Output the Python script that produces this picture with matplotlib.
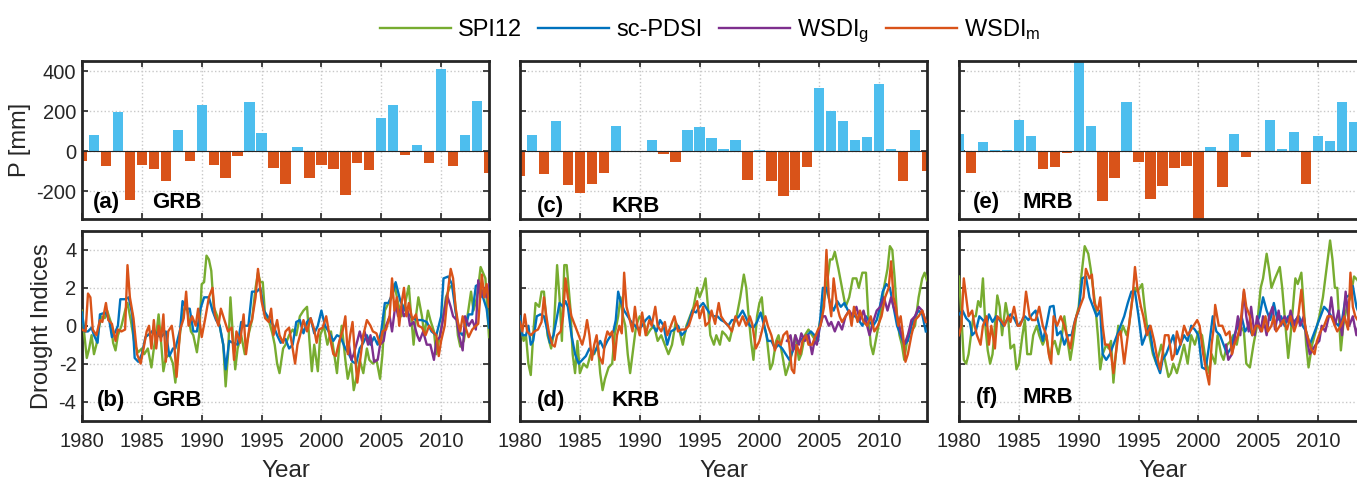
import numpy as np
import matplotlib
matplotlib.use('Agg')
import matplotlib.pyplot as plt

plt.rcParams['font.family'] = ['Liberation Sans', 'DejaVu Sans']
plt.rcParams['mathtext.fontset'] = 'custom'
plt.rcParams['mathtext.rm'] = 'Liberation Sans'
plt.rcParams['mathtext.it'] = 'Liberation Sans'
plt.rcParams['axes.unicode_minus'] = False

# annual precipitation anomalies [mm], 1980-2014
years = list(range(1980, 2015))
grb_p = [-50, 82, -75, 198, -243, -70, -88, -148, 105, -50, 232, -67, -135, -22, 245, 92, -85,
         -165, 20, -135, -70, -88, -222, -60, -93, 165, 233, -18, 32, -60, 413, -72, 83, 253, -110]
krb_p = [-125, 83, -112, 152, -172, -212, -165, -108, 127, -5, -5, 58, -12, -55, 107, 123, 68,
         10, 57, -142, 8, -148, -225, -195, -77, 317, 203, 153, 57, 73, 337, 12, -148, 107, -98]
mrb_p = [88, -108, 47, 5, 7, 158, 77, -90, -80, -7, 470, 128, -250, -135, 248, -52, -242,
         -173, -82, -72, -360, 22, -178, 88, -28, -5, 155, 13, 98, -167, 77, 53, 245, 148]

# drought indices, (year, value)
grb_spi = [(1980.0, 0.8), (1980.2, -0.5), (1980.4, -1.7), (1980.6, -1.2), (1980.8, -0.5), (1981.0, -1.5),
           (1981.2, -1.0), (1981.4, -0.2), (1981.6, 0.5), (1981.9, 0.4), (1982.1, 0.8), (1982.4, 0.2),
           (1982.6, -0.9), (1982.8, -1.3), (1983.0, -0.5), (1983.3, 0.0), (1983.6, 0.8), (1983.8, 1.2),
           (1984.1, 0.2), (1984.4, -1.0), (1984.7, -1.4), (1985.0, -1.2), (1985.2, -1.5), (1985.5, -1.2),
           (1985.8, -2.2), (1986.0, -1.2), (1986.2, -0.5), (1986.4, 0.6), (1986.6, -0.8), (1986.8, -2.4),
           (1987.0, -1.7), (1987.3, -1.5), (1987.6, -2.0), (1987.8, -3.0), (1988.0, -1.5), (1988.3, 0.2),
           (1988.6, 1.0), (1988.8, 0.8), (1989.1, -0.3), (1989.3, -0.5), (1989.6, -1.4), (1989.8, -0.4),
           (1990.0, 2.2), (1990.2, 2.3), (1990.4, 3.7), (1990.6, 3.5), (1990.8, 2.9), (1991.0, 1.0),
           (1991.3, 0.5), (1991.5, 0.0), (1991.8, -1.0), (1992.0, -3.2), (1992.2, -1.5), (1992.4, 1.5),
           (1992.6, -0.5), (1992.8, -2.3), (1993.0, -1.2), (1993.3, -0.5), (1993.6, -1.5), (1993.9, -0.5),
           (1994.2, 0.3), (1994.5, 2.0), (1994.7, 2.8), (1994.9, 2.3), (1995.1, 2.3), (1995.3, 0.5),
           (1995.6, 0.3), (1995.9, -0.4), (1996.1, -1.0), (1996.3, -2.0), (1996.5, -2.5), (1996.8, -1.2),
           (1997.0, -1.0), (1997.3, -0.5), (1997.6, -0.2), (1997.9, -0.5), (1998.2, 0.5), (1998.5, 0.8),
           (1998.8, 1.0), (1999.0, -0.8), (1999.2, -2.4), (1999.4, -1.0), (1999.7, -2.4), (1999.9, -0.5),
           (2000.2, 0.0), (2000.5, -1.0), (2000.8, -0.3), (2001.0, -1.2), (2001.3, -2.5), (2001.5, -1.0),
           (2001.7, 0.0), (2002.0, -1.8), (2002.2, -2.8), (2002.5, -2.0), (2002.7, -3.4), (2003.0, -2.5),
           (2003.2, -1.8), (2003.5, -2.5), (2003.8, -1.2), (2004.0, -1.8), (2004.3, -2.0), (2004.6, -1.8),
           (2004.9, -2.8), (2005.1, -1.5), (2005.3, 0.8), (2005.6, 1.2), (2005.9, 1.5), (2006.1, 2.2),
           (2006.4, 1.2), (2006.7, 0.5), (2007.0, 1.2), (2007.3, 2.1), (2007.5, 0.5), (2007.7, -1.0),
           (2007.9, 0.5), (2008.1, 1.5), (2008.4, 0.5), (2008.6, -0.5), (2008.9, 0.8), (2009.1, 0.3),
           (2009.4, -0.3), (2009.6, -1.5), (2009.9, -0.5), (2010.1, 0.2), (2010.4, 1.5), (2010.7, 2.0),
           (2011.0, 2.2), (2011.2, 1.0), (2011.4, -0.5), (2011.6, -1.1), (2011.9, -0.8), (2012.2, 0.5),
           (2012.5, 1.8), (2012.7, 0.8), (2013.0, 1.5), (2013.3, 3.1), (2013.5, 2.8), (2013.7, 2.5),
           (2014.0, -0.6)]
grb_pdsi = [(1980.0, 0.7), (1980.2, -0.3), (1980.5, -0.3), (1980.8, -0.1), (1981.0, -0.5), (1981.3, -0.9),
            (1981.5, 0.6), (1982.0, 0.7), (1982.3, 0.2), (1982.5, -0.6), (1982.8, -0.3), (1983.0, 0.0),
            (1983.2, 1.4), (1983.6, 1.4), (1983.9, 1.5), (1984.2, 0.6), (1984.4, -1.7), (1984.7, -1.9),
            (1985.0, -1.5), (1985.3, -0.6), (1985.7, -0.4), (1986.0, -0.2), (1986.3, -0.5), (1986.6, -0.6),
            (1987.0, -0.3), (1987.3, -1.6), (1987.6, -1.2), (1987.8, -1.2), (1988.2, -0.2), (1988.4, 1.3),
            (1988.7, 0.9), (1989.0, 0.9), (1989.3, -0.3), (1989.6, -0.3), (1989.9, 0.9), (1990.2, 1.5),
            (1990.6, 1.5), (1990.9, 0.8), (1991.2, 0.3), (1991.5, 0.0), (1991.8, -1.0), (1992.0, -2.3),
            (1992.3, -0.8), (1992.6, -0.9), (1993.0, -1.0), (1993.3, 0.2), (1993.6, 0.0), (1993.9, 0.0),
            (1994.2, 1.8), (1994.6, 1.8), (1994.9, 2.0), (1995.2, 0.8), (1995.6, 0.4), (1996.0, 0.0),
            (1996.3, -0.5), (1996.6, -0.9), (1997.0, -0.7), (1997.3, -1.2), (1997.6, -1.0), (1997.9, 0.2),
            (1998.2, 0.3), (1998.5, -0.4), (1998.8, 0.2), (1999.1, 0.4), (1999.4, -0.4), (1999.7, 0.0),
            (2000.0, 0.8), (2000.3, 0.0), (2000.6, -0.3), (2001.0, -0.8), (2001.3, -0.5), (2001.6, -0.6),
            (2002.0, -1.2), (2002.3, -1.5), (2002.6, -1.9), (2002.9, -2.0), (2003.2, -1.2), (2003.5, -0.9),
            (2003.8, -0.5), (2004.1, -1.0), (2004.4, -0.6), (2004.7, -1.0), (2005.0, -0.3), (2005.3, 1.2),
            (2005.6, 1.2), (2006.0, 1.8), (2006.2, 2.3), (2006.6, 1.3), (2007.0, 0.8), (2007.3, 0.6),
            (2007.6, 0.4), (2008.0, 0.3), (2008.4, 0.3), (2008.8, 0.2), (2009.2, -0.3), (2009.6, -0.5),
            (2010.0, 0.5), (2010.2, 2.5), (2010.6, 2.6), (2010.9, 2.2), (2011.2, 0.8), (2011.5, -0.3),
            (2011.8, -0.5), (2012.0, -0.2), (2012.3, 0.6), (2012.6, 0.6), (2012.9, 2.1), (2013.2, 2.2),
            (2013.5, 1.5), (2013.8, 0.9), (2014.0, -0.1)]
grb_wsdig = [(2002.3, -1.0), (2002.5, -1.8), (2002.7, -1.5), (2003.0, -0.8), (2003.2, -0.3), (2003.4, -0.8),
             (2003.6, -0.3), (2003.9, -1.0), (2004.1, -0.5), (2004.4, -1.9), (2004.7, -1.8), (2004.9, -1.0),
             (2005.2, -0.8), (2005.4, 0.0), (2005.7, 0.5), (2005.9, -0.3), (2006.2, 1.2), (2006.4, 0.5),
             (2006.7, 1.0), (2006.9, 0.5), (2007.2, 0.8), (2007.4, 0.0), (2007.7, 0.2), (2008.0, -0.5),
             (2008.2, -0.8), (2008.5, -0.3), (2008.8, -1.0), (2009.1, -1.0), (2009.4, -1.8), (2009.6, -0.8),
             (2009.9, -0.6), (2010.2, 0.5), (2010.5, 1.6), (2010.8, 1.0), (2011.0, 0.5), (2011.3, 0.3),
             (2011.5, -0.5), (2011.8, -1.3), (2012.0, 0.5), (2012.3, 0.0), (2012.6, 0.3), (2012.9, -0.2),
             (2013.1, 2.4), (2013.3, 1.5), (2013.6, 2.0), (2013.8, 1.5), (2014.0, 2.2)]
grb_wsdim = [(1980.0, -0.2), (1980.3, -0.3), (1980.5, 1.7), (1980.7, 1.5), (1980.9, -0.2), (1981.2, -0.5),
             (1981.5, 0.3), (1981.7, 0.2), (1982.0, 1.2), (1982.2, 0.3), (1982.5, 0.1), (1982.8, -0.8),
             (1983.0, -0.2), (1983.3, -0.3), (1983.6, -0.2), (1983.8, 3.2), (1984.0, 1.5), (1984.3, 0.4),
             (1984.6, -1.5), (1984.9, -2.0), (1985.2, -1.0), (1985.4, -0.3), (1985.6, 0.0), (1985.8, -1.2),
             (1986.0, 0.3), (1986.2, -1.2), (1986.4, 0.0), (1986.6, -0.8), (1986.8, 0.6), (1987.0, -1.9),
             (1987.2, -0.3), (1987.5, 0.0), (1987.7, -0.9), (1987.9, -2.7), (1988.2, -0.2), (1988.5, 0.4),
             (1988.7, 1.8), (1988.9, 0.0), (1989.2, 0.5), (1989.5, 0.0), (1989.7, 0.9), (1990.0, -0.6),
             (1990.3, 0.4), (1990.6, 1.5), (1990.9, 2.0), (1991.1, 0.6), (1991.4, 0.0), (1991.6, 0.9),
             (1991.9, 0.3), (1992.2, -0.3), (1992.5, -0.1), (1992.7, -1.8), (1992.9, -0.3), (1993.2, -0.9),
             (1993.5, 0.6), (1993.7, -1.5), (1994.0, 0.0), (1994.2, 0.3), (1994.5, 1.5), (1994.7, 3.0),
             (1995.0, 1.3), (1995.3, 0.4), (1995.6, 0.2), (1995.8, 0.9), (1996.0, -0.5), (1996.3, 0.3),
             (1996.5, -0.5), (1996.8, -0.9), (1997.0, -0.3), (1997.3, -0.1), (1997.6, -1.2), (1997.8, -2.0),
             (1998.0, -1.0), (1998.3, -0.3), (1998.5, 0.3), (1998.8, -0.3), (1999.1, 0.4), (1999.4, -0.2),
             (1999.6, -0.9), (1999.8, -0.2), (2000.1, -0.1), (2000.4, 0.5), (2000.7, -0.6), (2001.0, -1.5),
             (2001.2, -1.6), (2001.5, -0.8), (2001.8, -0.2), (2002.0, 0.5), (2002.2, -1.5), (2002.4, -0.5),
             (2002.6, 0.2), (2002.8, -1.5), (2003.0, -3.0), (2003.3, -1.5), (2003.5, -0.5), (2003.8, 0.3),
             (2004.1, 0.0), (2004.3, -0.3), (2004.6, -0.4), (2004.9, -1.0), (2005.1, -0.3), (2005.4, -0.2),
             (2005.7, 0.5), (2005.9, 2.5), (2006.1, 0.8), (2006.3, 1.5), (2006.5, 0.0), (2006.7, 1.2),
             (2006.9, 2.0), (2007.1, 0.5), (2007.3, 1.2), (2007.6, 0.3), (2007.9, 0.6), (2008.1, 0.0),
             (2008.4, -0.1), (2008.7, -0.5), (2009.0, 0.0), (2009.3, -0.3), (2009.6, -0.5), (2009.8, -1.6),
             (2010.0, -0.8), (2010.3, 0.0), (2010.6, 2.0), (2010.8, 3.0), (2011.0, 2.5), (2011.2, 1.0),
             (2011.4, 0.2), (2011.6, -0.3), (2011.8, 0.5), (2012.0, 0.0), (2012.3, -0.6), (2012.6, -0.2),
             (2012.9, 0.0), (2013.1, 0.1), (2013.4, 2.7), (2013.6, 1.5), (2013.8, 2.2), (2014.0, 1.0)]

krb_spi = [(1980.0, 0.2), (1980.3, -0.8), (1980.5, -0.5), (1980.7, -2.0), (1980.9, -2.6), (1981.1, -0.5),
           (1981.3, 1.2), (1981.6, 1.0), (1981.8, 1.8), (1982.0, 1.8), (1982.3, -0.5), (1982.6, -1.2),
           (1982.8, -0.5), (1983.1, 3.2), (1983.3, 1.5), (1983.5, -0.8), (1983.7, 3.2), (1983.9, 3.2),
           (1984.2, 1.0), (1984.4, -1.5), (1984.6, -2.5), (1984.8, -0.8), (1985.0, -2.5), (1985.3, -2.0),
           (1985.6, -2.2), (1985.9, -1.5), (1986.2, -1.5), (1986.5, -1.0), (1986.7, -2.5), (1986.9, -3.4),
           (1987.1, -2.8), (1987.4, -2.2), (1987.7, -2.0), (1987.9, -0.5), (1988.2, 0.5), (1988.4, 1.5),
           (1988.6, 0.5), (1988.8, 0.0), (1989.0, -1.5), (1989.2, -2.5), (1989.5, -1.0), (1989.7, 0.0),
           (1990.0, 0.5), (1990.3, 0.3), (1990.6, -0.5), (1990.9, -0.2), (1991.2, 0.0), (1991.5, -0.8),
           (1991.8, -0.5), (1992.1, -1.0), (1992.4, -1.5), (1992.7, -1.0), (1993.0, 0.2), (1993.3, -0.2),
           (1993.6, -1.0), (1993.9, 0.0), (1994.2, 0.5), (1994.5, 1.0), (1994.8, 2.0), (1995.0, 1.5),
           (1995.3, 2.0), (1995.5, 2.5), (1995.7, 1.0), (1995.9, -0.5), (1996.2, -1.0), (1996.4, -0.5),
           (1996.7, -1.0), (1996.9, -0.3), (1997.2, -0.5), (1997.5, -0.8), (1997.8, 0.0), (1998.1, 0.5),
           (1998.4, 1.5), (1998.7, 2.7), (1998.9, 2.0), (1999.1, 0.5), (1999.3, -0.8), (1999.5, -1.8),
           (1999.8, 0.5), (2000.0, 1.2), (2000.2, 1.5), (2000.4, 0.0), (2000.6, -0.5), (2000.9, -2.3),
           (2001.1, -2.0), (2001.4, -0.8), (2001.6, -0.5), (2001.9, -1.5), (2002.2, -2.6), (2002.5, -2.0),
           (2002.7, -1.5), (2003.0, -0.5), (2003.3, -1.8), (2003.5, -1.5), (2003.8, -0.5), (2004.1, -0.2),
           (2004.4, -0.5), (2004.7, -0.8), (2005.0, 0.0), (2005.3, 1.0), (2005.6, 2.0), (2005.9, 3.5),
           (2006.1, 3.5), (2006.3, 3.9), (2006.6, 3.0), (2006.9, 2.0), (2007.2, 1.0), (2007.5, 1.5),
           (2007.8, 2.5), (2008.1, 2.5), (2008.3, 2.0), (2008.6, 2.8), (2008.9, 2.8), (2009.1, 0.5),
           (2009.3, -1.0), (2009.5, -1.5), (2009.8, -0.5), (2010.1, 0.5), (2010.4, 2.0), (2010.7, 3.0),
           (2010.9, 4.2), (2011.1, 4.0), (2011.3, 2.5), (2011.5, 0.5), (2011.7, -0.5), (2011.9, -1.0),
           (2012.1, -1.8), (2012.4, -0.5), (2012.7, -0.3), (2013.0, 0.0), (2013.3, 1.5), (2013.6, 2.5),
           (2013.8, 2.8), (2014.0, 2.4)]
krb_pdsi = [(1980.0, 0.5), (1980.2, -0.5), (1980.5, -0.5), (1980.7, 0.0), (1980.9, -1.0), (1981.1, -0.8),
            (1981.4, 0.5), (1981.7, 0.6), (1982.0, 0.5), (1982.2, 0.0), (1982.5, -0.9), (1982.8, -0.5),
            (1983.1, 0.5), (1983.3, 1.2), (1983.6, 1.0), (1983.8, 1.3), (1984.0, 1.0), (1984.3, -0.5),
            (1984.6, -1.5), (1984.9, -2.0), (1985.2, -1.8), (1985.5, -1.6), (1985.8, -1.2), (1986.1, -1.5),
            (1986.4, -1.2), (1986.7, -0.8), (1987.0, -1.2), (1987.3, -0.8), (1987.6, -0.5), (1987.8, -0.3),
            (1988.0, 0.3), (1988.2, 1.8), (1988.4, 1.3), (1988.7, 0.8), (1989.0, 0.5), (1989.3, 0.2),
            (1989.6, 0.0), (1989.9, -0.2), (1990.2, 0.0), (1990.5, 0.3), (1990.8, 0.5), (1991.1, 0.0),
            (1991.4, -0.3), (1991.7, 0.3), (1992.0, 0.0), (1992.3, -1.0), (1992.6, -0.3), (1992.9, -0.2),
            (1993.2, 0.0), (1993.5, -0.5), (1993.8, -0.3), (1994.1, 0.2), (1994.4, 0.8), (1994.7, 0.7),
            (1995.0, 1.0), (1995.3, 1.2), (1995.6, 0.9), (1995.9, 0.6), (1996.2, 0.5), (1996.5, 0.5),
            (1996.8, 0.3), (1997.1, 0.2), (1997.4, 0.0), (1997.7, 0.3), (1998.0, 0.3), (1998.3, 0.5),
            (1998.6, 0.8), (1998.9, 0.4), (1999.2, 0.0), (1999.5, -0.1), (1999.8, 0.2), (2000.1, 0.7),
            (2000.4, 0.0), (2000.7, -0.8), (2001.0, -0.8), (2001.3, -1.2), (2001.6, -1.0), (2001.9, -1.2),
            (2002.2, -1.5), (2002.5, -1.8), (2002.8, -1.3), (2003.1, -1.0), (2003.4, -0.8), (2003.7, -0.6),
            (2004.0, -0.5), (2004.3, -0.3), (2004.6, -0.5), (2004.9, -0.8), (2005.1, 0.5), (2005.3, 2.0),
            (2005.6, 2.0), (2005.9, 1.2), (2006.2, 0.8), (2006.5, 1.3), (2006.8, 1.0), (2007.1, 1.2),
            (2007.4, 0.8), (2007.7, 0.5), (2008.0, 0.5), (2008.3, 0.3), (2008.6, 0.0), (2008.9, 0.5),
            (2009.2, 0.2), (2009.5, 0.0), (2009.8, 0.3), (2010.0, 0.8), (2010.3, 1.8), (2010.6, 2.2),
            (2010.9, 2.0), (2011.2, 1.0), (2011.5, 0.0), (2011.8, -0.5), (2012.1, -1.0), (2012.4, -0.8),
            (2012.7, 0.0), (2013.0, 0.5), (2013.3, 0.8), (2013.6, 0.6), (2013.9, -0.3)]
krb_wsdig = [(2002.3, -0.8), (2002.6, -0.5), (2002.8, -1.3), (2003.0, -0.5), (2003.3, -1.0), (2003.5, -0.4),
             (2003.8, -0.8), (2004.1, -0.5), (2004.4, -1.5), (2004.6, -0.8), (2004.8, -1.0), (2005.0, -0.2),
             (2005.3, 0.5), (2005.5, 0.5), (2005.8, 0.0), (2006.0, 0.2), (2006.3, -0.3), (2006.6, 0.2),
             (2006.9, -0.2), (2007.2, 0.5), (2007.5, 0.8), (2007.8, 0.5), (2008.1, 1.0), (2008.4, 0.3),
             (2008.7, 0.8), (2009.0, 0.0), (2009.2, -0.5), (2009.5, 0.2), (2009.8, 0.8), (2010.1, 1.0),
             (2010.4, 1.5), (2010.7, 0.8), (2011.0, 1.5), (2011.2, 1.0), (2011.5, 0.5), (2011.8, -0.3),
             (2012.1, -1.0), (2012.4, -0.5), (2012.7, 0.3), (2013.0, 0.5), (2013.3, 1.0), (2013.6, 0.8),
             (2013.9, 0.2)]
krb_wsdim = [(1980.0, 0.2), (1980.2, -0.3), (1980.4, 0.6), (1980.6, -0.3), (1980.9, -0.5), (1981.2, -0.3),
             (1981.5, -0.2), (1981.8, 0.2), (1982.0, 1.5), (1982.2, 0.5), (1982.4, -0.3), (1982.7, -1.0),
             (1982.9, -1.1), (1983.1, -0.5), (1983.4, -0.3), (1983.6, 0.5), (1983.8, 2.5), (1984.0, 1.5),
             (1984.3, 0.5), (1984.6, 0.0), (1984.9, -0.5), (1985.2, -1.0), (1985.4, -0.5), (1985.6, 0.3),
             (1985.8, -0.5), (1986.0, -1.8), (1986.2, -1.0), (1986.4, -0.5), (1986.6, -1.6), (1986.9, -2.0),
             (1987.1, -0.8), (1987.3, -0.3), (1987.5, -0.5), (1987.7, -0.3), (1987.9, -1.8), (1988.1, -0.5),
             (1988.3, 0.0), (1988.5, -0.4), (1988.7, 2.8), (1988.9, 1.0), (1989.1, 0.5), (1989.4, -0.3),
             (1989.6, 1.0), (1989.8, 0.0), (1990.0, -0.5), (1990.2, 0.7), (1990.5, -0.5), (1990.8, 0.3),
             (1991.0, 0.0), (1991.3, 1.0), (1991.5, 0.0), (1991.8, -0.3), (1992.1, 0.2), (1992.3, -0.5),
             (1992.6, 0.0), (1992.9, 0.5), (1993.2, -0.3), (1993.5, -0.2), (1993.8, -0.2), (1994.1, 0.0),
             (1994.4, 0.6), (1994.6, 1.0), (1994.8, 1.3), (1995.0, 0.4), (1995.3, 1.0), (1995.5, 0.0),
             (1995.8, 0.2), (1996.0, 0.8), (1996.3, 0.1), (1996.6, 1.2), (1996.8, 0.5), (1997.1, 0.2),
             (1997.4, 0.0), (1997.7, -0.3), (1998.0, 0.5), (1998.3, 0.0), (1998.6, 0.5), (1998.9, 0.0),
             (1999.2, 0.5), (1999.4, 0.1), (1999.7, -1.2), (2000.0, -0.8), (2000.2, -0.3), (2000.5, 0.5),
             (2000.7, 0.0), (2001.0, -0.5), (2001.3, -1.3), (2001.5, -0.8), (2001.8, -1.0), (2002.0, -0.5),
             (2002.3, -0.3), (2002.5, -1.0), (2002.7, -2.3), (2002.9, -2.5), (2003.1, -1.0), (2003.4, -1.5),
             (2003.6, -0.8), (2003.9, -0.5), (2004.1, -1.0), (2004.4, -1.0), (2004.7, -0.5), (2004.9, -0.2),
             (2005.1, 0.0), (2005.4, 1.0), (2005.6, 4.0), (2005.8, 1.5), (2006.0, 0.5), (2006.2, 2.5),
             (2006.5, 1.0), (2006.7, 0.5), (2006.9, 0.2), (2007.2, 0.5), (2007.5, 0.8), (2007.7, 0.0),
             (2007.9, 1.0), (2008.2, 0.2), (2008.4, 0.8), (2008.7, 0.2), (2009.0, 0.0), (2009.3, 0.5),
             (2009.6, -0.3), (2009.9, 0.0), (2010.2, 0.5), (2010.5, 1.5), (2010.8, 2.0), (2011.0, 3.4),
             (2011.2, 1.5), (2011.4, 1.0), (2011.6, 0.0), (2011.8, 0.5), (2012.0, -0.5), (2012.2, -1.9),
             (2012.4, -1.5), (2012.7, -0.5), (2013.0, 0.3), (2013.3, 0.5), (2013.6, 0.8), (2013.9, 0.2)]

mrb_spi = [(1980.0, 2.6), (1980.2, 0.5), (1980.4, -1.8), (1980.6, -2.0), (1980.8, -1.5), (1981.0, -0.5),
           (1981.2, 0.5), (1981.4, 0.5), (1981.6, 1.3), (1981.8, 1.0), (1982.0, 2.5), (1982.2, 0.0),
           (1982.4, -1.3), (1982.6, -2.0), (1982.8, -1.5), (1983.0, 0.0), (1983.2, 1.6), (1983.4, 1.0),
           (1983.6, -0.5), (1983.9, 1.2), (1984.1, 0.5), (1984.3, -1.2), (1984.6, -1.0), (1984.8, -2.3),
           (1985.0, -2.0), (1985.3, -0.5), (1985.5, 0.3), (1985.7, -1.5), (1986.0, -1.5), (1986.2, -0.5),
           (1986.5, 0.0), (1986.7, -0.5), (1987.0, -1.0), (1987.3, -0.5), (1987.6, -1.8), (1987.8, -1.0),
           (1988.0, -0.8), (1988.3, -1.5), (1988.6, -0.5), (1988.8, 0.5), (1989.0, -0.5), (1989.3, -1.8),
           (1989.5, -1.0), (1989.8, 0.5), (1990.0, 1.0), (1990.2, 2.5), (1990.5, 4.2), (1990.8, 3.8),
           (1991.0, 3.0), (1991.2, 2.0), (1991.4, 1.0), (1991.6, -0.5), (1991.8, -2.3), (1992.0, -1.5),
           (1992.3, -1.0), (1992.5, -1.2), (1992.7, -0.8), (1992.9, -3.0), (1993.1, -1.5), (1993.3, 0.0),
           (1993.5, -0.5), (1993.7, 0.0), (1994.0, -0.5), (1994.2, 0.0), (1994.5, 1.5), (1994.7, 2.0),
           (1994.9, 1.8), (1995.1, 2.0), (1995.3, 2.2), (1995.5, 1.0), (1995.7, 0.0), (1995.9, -0.5),
           (1996.2, -1.5), (1996.5, -2.0), (1996.7, -1.5), (1996.9, -1.0), (1997.2, -1.8), (1997.5, -2.7),
           (1997.7, -2.5), (1997.9, -2.0), (1998.2, -2.5), (1998.5, -1.8), (1998.8, -1.0), (1999.1, -2.0),
           (1999.4, -0.5), (1999.7, -1.0), (2000.0, -0.3), (2000.3, -0.5), (2000.6, -1.8), (2000.9, -2.5),
           (2001.1, -1.5), (2001.4, -2.0), (2001.6, -0.5), (2001.9, -1.5), (2002.1, -1.8), (2002.4, -1.0),
           (2002.7, -0.8), (2002.9, -0.5), (2003.2, -1.0), (2003.5, 0.0), (2003.8, -0.3), (2004.0, -2.0),
           (2004.3, -2.2), (2004.6, -1.0), (2004.9, 0.0), (2005.2, 2.0), (2005.4, 2.5), (2005.7, 3.8),
           (2005.9, 3.0), (2006.1, 2.0), (2006.4, 2.5), (2006.8, 3.1), (2007.0, 2.0), (2007.2, 0.5),
           (2007.5, -1.7), (2007.7, -0.5), (2007.9, 1.0), (2008.1, 2.5), (2008.3, 2.2), (2008.6, 2.8),
           (2008.8, 1.0), (2009.0, -1.0), (2009.2, -2.2), (2009.5, -1.0), (2009.8, -0.3), (2010.1, 0.5),
           (2010.4, 1.5), (2010.7, 3.0), (2011.0, 4.5), (2011.2, 3.5), (2011.4, 2.0), (2011.6, 2.0),
           (2011.9, -1.3), (2012.1, 0.0), (2012.4, 1.0), (2012.7, 1.5), (2013.0, 2.6), (2013.3, 2.4),
           (2013.6, 1.8), (2014.0, 1.2)]
mrb_pdsi = [(1980.0, 0.6), (1980.3, 0.8), (1980.6, 0.4), (1980.9, 0.2), (1981.1, -0.5), (1981.4, -0.3),
            (1981.7, 0.5), (1982.0, 0.3), (1982.3, 0.0), (1982.5, 0.6), (1982.8, 0.2), (1983.1, 0.5),
            (1983.4, 0.3), (1983.7, 0.0), (1984.0, 0.3), (1984.3, 0.6), (1984.6, 0.4), (1984.9, 0.0),
            (1985.2, 0.2), (1985.5, 0.5), (1985.8, 0.3), (1986.1, 0.6), (1986.4, 0.8), (1986.7, 0.0),
            (1987.0, -0.8), (1987.3, 0.0), (1987.6, 1.0), (1987.9, 1.05), (1988.2, -0.5), (1988.5, -0.3),
            (1988.8, -1.0), (1989.1, -0.5), (1989.4, -0.5), (1989.7, 0.3), (1990.0, 0.8), (1990.3, 2.5),
            (1990.6, 2.6), (1990.9, 1.5), (1991.2, 1.0), (1991.5, 0.5), (1991.8, 0.8), (1992.0, -1.5),
            (1992.3, -1.8), (1992.6, -1.5), (1992.9, -1.0), (1993.2, -0.5), (1993.5, 0.0), (1993.8, 0.5),
            (1994.1, 1.2), (1994.4, 1.8), (1994.7, 1.8), (1995.0, 0.5), (1995.3, -1.0), (1995.6, -0.5),
            (1995.9, 0.0), (1996.2, -1.3), (1996.5, -2.0), (1996.8, -2.5), (1997.0, -1.8), (1997.3, -1.5),
            (1997.6, -1.0), (1997.9, -0.5), (1998.2, -1.5), (1998.5, -1.0), (1998.8, -0.5), (1999.1, -0.8),
            (1999.4, 0.0), (1999.7, -0.2), (2000.0, -0.5), (2000.3, -2.2), (2000.6, -2.3), (2000.9, -1.0),
            (2001.2, 0.5), (2001.5, -0.3), (2001.8, -0.5), (2002.1, -1.0), (2002.4, -1.5), (2002.7, -1.2),
            (2003.0, -0.5), (2003.3, 0.0), (2003.6, 0.5), (2003.9, -0.3), (2004.2, 0.0), (2004.5, -0.5),
            (2004.8, 0.0), (2005.1, 0.5), (2005.4, 1.5), (2005.7, 0.8), (2006.0, 0.3), (2006.3, 1.2),
            (2006.6, 0.3), (2006.9, 0.5), (2007.2, 0.0), (2007.5, 0.5), (2007.8, 0.0), (2008.1, 0.3),
            (2008.4, 0.5), (2008.7, 0.0), (2009.0, -0.3), (2009.3, -1.0), (2009.6, -0.5), (2009.9, 0.0),
            (2010.2, 0.5), (2010.5, 1.0), (2010.8, 0.8), (2011.1, 0.5), (2011.4, 0.2), (2011.7, 0.0),
            (2012.0, 0.3), (2012.3, 1.5), (2012.6, 1.6), (2012.9, 2.1), (2013.2, 1.0), (2013.5, 0.5),
            (2014.0, 0.5)]
mrb_wsdig = [(2002.3, -1.0), (2002.5, -1.8), (2002.8, -1.5), (2003.0, -0.8), (2003.3, 0.5), (2003.5, -0.5),
             (2003.8, 1.8), (2004.0, 0.5), (2004.2, -0.3), (2004.4, 1.0), (2004.7, -0.5), (2004.9, 0.5),
             (2005.2, -0.3), (2005.4, 0.5), (2005.7, -0.5), (2005.9, 0.5), (2006.2, 1.0), (2006.4, -0.2),
             (2006.7, 0.8), (2006.9, 0.0), (2007.2, 0.5), (2007.5, 0.2), (2007.7, 0.8), (2008.0, 0.0),
             (2008.3, 0.5), (2008.5, 0.0), (2008.8, 0.5), (2009.0, -0.5), (2009.3, -1.5), (2009.5, -1.3),
             (2009.8, -1.0), (2010.1, -0.8), (2010.3, 0.0), (2010.6, -0.3), (2010.9, 0.5), (2011.1, 1.5),
             (2011.4, 0.0), (2011.7, 0.8), (2012.0, -0.5), (2012.3, 1.8), (2012.6, 0.0), (2012.9, 0.5),
             (2013.2, -0.5), (2013.5, 0.5)]
mrb_wsdim = [(1980.0, -0.5), (1980.2, 0.0), (1980.4, 2.5), (1980.6, 1.5), (1980.8, 0.5), (1981.1, 0.8),
             (1981.3, 0.0), (1981.5, -0.5), (1981.8, -1.0), (1982.0, 0.0), (1982.3, 0.5), (1982.5, -1.0),
             (1982.7, 0.0), (1983.0, -1.2), (1983.2, 0.5), (1983.5, 0.3), (1983.8, 0.0), (1984.1, 0.5),
             (1984.3, 0.2), (1984.6, 1.0), (1984.9, 0.0), (1985.1, 0.0), (1985.4, 0.5), (1985.6, 1.8),
             (1985.9, 0.5), (1986.1, 0.3), (1986.4, 0.3), (1986.7, 1.0), (1987.0, 0.0), (1987.3, -0.5),
             (1987.5, -1.5), (1987.7, -2.0), (1987.9, 0.5), (1988.2, 0.0), (1988.5, 0.5), (1988.8, 0.0),
             (1989.0, -0.5), (1989.3, -1.2), (1989.6, 0.0), (1989.8, 0.5), (1990.1, 1.0), (1990.4, 1.5),
             (1990.6, 3.0), (1990.9, 2.5), (1991.1, 2.7), (1991.3, 1.2), (1991.6, 0.8), (1991.8, 1.5),
             (1992.0, 0.0), (1992.2, -1.0), (1992.5, -1.0), (1992.7, -1.5), (1992.9, -2.5), (1993.1, -1.5),
             (1993.3, -0.5), (1993.5, -0.3), (1993.8, -2.0), (1994.0, -1.0), (1994.2, 0.0), (1994.5, 1.5),
             (1994.7, 3.1), (1994.9, 2.0), (1995.2, 1.0), (1995.4, 0.5), (1995.7, -0.5), (1996.0, 0.0),
             (1996.3, -0.8), (1996.5, -1.5), (1996.8, -2.3), (1997.0, -1.5), (1997.2, -0.5), (1997.5, -0.5),
             (1997.8, -1.8), (1998.0, -1.5), (1998.2, -0.3), (1998.5, -1.0), (1998.8, 0.0), (1999.1, -0.5),
             (1999.3, -0.3), (1999.6, 0.0), (1999.9, 0.3), (2000.1, 0.0), (2000.4, -1.5), (2000.7, -2.5),
             (2000.9, -3.1), (2001.1, -1.0), (2001.3, 0.0), (2001.4, 1.1), (2001.7, 0.0), (2002.0, 0.0),
             (2002.3, -0.5), (2002.6, -0.3), (2002.8, -1.5), (2003.0, -1.0), (2003.3, -0.5), (2003.5, 0.0),
             (2003.8, 1.9), (2004.0, 1.0), (2004.3, 0.5), (2004.5, -0.5), (2004.8, 0.0), (2005.0, 0.0),
             (2005.3, -0.3), (2005.6, 0.5), (2005.8, -0.3), (2006.1, 0.0), (2006.3, 0.5), (2006.5, -0.3),
             (2006.8, 0.0), (2007.1, 0.3), (2007.4, -0.2), (2007.7, 0.5), (2008.0, -0.3), (2008.3, 0.3),
             (2008.6, 1.9), (2008.8, 0.5), (2009.0, -0.3), (2009.4, -1.2), (2009.7, -1.5), (2009.9, -0.8),
             (2010.2, -0.3), (2010.5, 0.0), (2010.8, 0.5), (2011.1, 0.5), (2011.4, 0.0), (2011.6, -0.3),
             (2011.9, 0.0), (2012.2, 0.5), (2012.5, -0.2), (2012.7, 2.8), (2012.9, 1.0), (2013.1, 0.5),
             (2013.4, 0.2), (2014.0, 0.5)]

basins = ['GRB', 'KRB', 'MRB']
precip = [grb_p, krb_p, mrb_p]
indices = [[grb_spi, grb_pdsi, grb_wsdig, grb_wsdim],
           [krb_spi, krb_pdsi, krb_wsdig, krb_wsdim],
           [mrb_spi, mrb_pdsi, mrb_wsdig, mrb_wsdim]]
index_names = ['SPI12', 'sc-PDSI', r'WSDI$_\mathrm{g}$', r'WSDI$_\mathrm{m}$']
index_colors = ['#77AC30', '#0072BD', '#7E2F8E', '#D95319']
top_tags = ['(a)', '(c)', '(e)']
bot_tags = ['(b)', '(d)', '(f)']

axcol = '#262626'
W, H = 1357, 480
fig = plt.figure(figsize=(W / 100, H / 100), dpi=100)

lefts = [82, 520, 959]
tag_pos_top = [(0.027, 0.07, 0.172), (0.042, 0.046, 0.226), (0.034, 0.068, 0.157)]
tag_pos_bot = [(0.037, 0.079, 0.172), (0.042, 0.079, 0.226), (0.042, 0.09, 0.155)]


def style_axes(ax, show_y):
    for s in ax.spines.values():
        s.set_linewidth(2.0)
        s.set_color(axcol)
    ax.tick_params(direction='in', length=4, width=1.2, top=True, right=True,
                   colors=axcol, labelsize=14.5)
    ax.tick_params(axis='x', pad=8.5)
    ax.tick_params(axis='y', pad=4)
    ax.grid(True, linestyle=':', color='#c8c8c8', linewidth=1.0)
    ax.set_axisbelow(True)
    ax.set_xlim(1980, 2014)
    ax.set_xticks(range(1980, 2015, 5))
    if not show_y:
        ax.tick_params(labelleft=False)


for i in range(3):
    x0 = lefts[i] / W
    w = 407 / W
    # precipitation bars
    ax = fig.add_axes([x0, (H - 219) / H, w, 158 / H])
    style_axes(ax, i == 0)
    p = np.array(precip[i], dtype=float)
    yr = np.array(years[:len(p)])
    cols = np.where(p >= 0, '#4DBEEE', '#D95319')
    ax.bar(yr, p, width=0.86, color=cols, edgecolor='none', zorder=2)
    ax.axhline(0, color='#262626', lw=0.8, zorder=3)
    ax.set_ylim(-340, 452)
    ax.set_yticks([-200, 0, 200, 400])
    ax.tick_params(labelbottom=False)
    if i == 0:
        ax.set_ylabel('P [mm]', fontsize=17, color=axcol, labelpad=4)
    tx, ty, bx = tag_pos_top[i]
    ax.text(tx, ty, top_tags[i], transform=ax.transAxes, fontsize=16, fontweight='bold', va='baseline')
    ax.text(bx, ty, basins[i], transform=ax.transAxes, fontsize=16, fontweight='bold', va='baseline')

    # drought indices
    ax2 = fig.add_axes([x0, (H - 420.5) / H, w, 189.5 / H])
    style_axes(ax2, i == 0)
    for k in range(4):
        d = np.array(indices[i][k])
        ax2.plot(d[:, 0], d[:, 1], color=index_colors[k], lw=1.7, label=index_names[k], zorder=3 + k)
    ax2.set_ylim(-5, 5)
    ax2.set_yticks([-4, -2, 0, 2, 4])
    ax2.set_xlabel('Year', fontsize=17.5, color=axcol, labelpad=6)
    if i == 0:
        ax2.set_ylabel('Drought Indices', fontsize=17, color=axcol, labelpad=4)
        handles, labels = ax2.get_legend_handles_labels()
    tx, ty, bx = tag_pos_bot[i]
    ax2.text(tx, ty, bot_tags[i], transform=ax2.transAxes, fontsize=16, fontweight='bold', va='baseline')
    ax2.text(bx, ty, basins[i], transform=ax2.transAxes, fontsize=16, fontweight='bold', va='baseline')

fig.legend(handles, labels, loc='center', bbox_to_anchor=(710 / W, 1 - 31 / H), ncol=4,
           frameon=False, fontsize=17, handlelength=3.0, handletextpad=0.3, columnspacing=0.7)

fig.savefig('out.png', dpi=100)
